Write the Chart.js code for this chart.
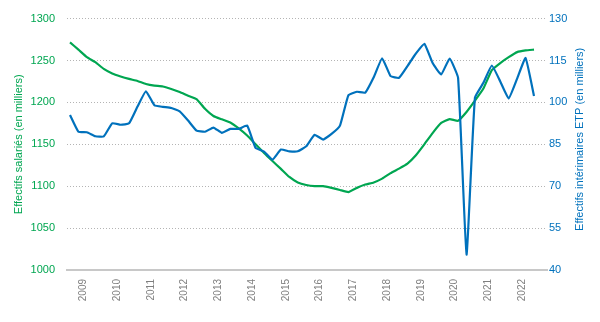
<!DOCTYPE html>
<html><head><meta charset="utf-8">
<script src="https://cdn.jsdelivr.net/npm/chart.js@4/dist/chart.umd.min.js"></script>
<style>html,body{margin:0;padding:0;background:#fff}#w{width:600px;height:322px;position:relative}</style>
</head><body><div id="w"><canvas id="c"></canvas></div>
<script>
// Quarterly categories 2008 T3 .. 2022 T2
const quarters = [];
for (let y = 2008; y <= 2022; y++) for (let q = 1; q <= 4; q++) {
  if ((y === 2008 && q < 3) || (y === 2022 && q > 2)) continue;
  quarters.push(y + ' T' + q);
}
const yearLabels = ['2009','2010','2011','2012','2013','2014','2015','2016','2017','2018','2019','2020','2021','2022'];

// Effectifs salariés (en milliers) - left axis
const salaries = [1271.6,1263,1254,1248,1240,1234.6,1231,1228,1225.5,1222,
  1220,1219,1216,1212.5,1208,1204,1192.4,1183.8,1179.8,1176,
  1169,1160.5,1150,1139.6,1130,1120.7,1111,1104.5,1101.4,1100,
  1100,1098,1095.5,1093,1098,1102,1104.5,1109,1115.6,1121,
  1127,1137,1150,1163.7,1175.5,1180,1178,1188.5,1202,1216.5,
  1238.5,1247,1254,1260,1262,1263];

// Effectifs intérimaires ETP (en milliers) - right axis
const interim = [95.5,89.5,89.3,87.9,87.8,92.5,92.0,92.5,98.5,104,
  99.0,98.4,98.0,96.8,93.5,89.9,89.5,91.0,89.1,90.5,
  90.5,91.7,83.7,82.4,79.5,83.1,82.5,82.5,84.3,88.4,
  86.7,88.7,91.7,102.6,103.8,103.5,109.0,115.8,109.4,108.8,
  113.0,117.5,121,114,110,115.7,108.8,45.5,101.7,107,
  113.2,107.5,101.4,108.5,115.9,102.3];

const leftTicks = [1000,1050,1100,1150,1200,1250,1300];
const rightTicks = [40,55,70,85,100,115,130];

const GREEN = '#00a651';
const BLUE = '#0071bc';
const FONT = "'Liberation Sans', Arial, sans-serif";

// year tick positions: year label sits between T4 of previous year and T1
const yearPos = yearLabels.map(y => quarters.indexOf(y + ' T1') - 0.4);

const rightTitle = {
  id: 'rightTitle',
  afterDraw(chart) {
    const ctx = chart.ctx;
    const a = chart.chartArea;
    ctx.save();
    ctx.translate(580, (a.top + a.bottom) / 2 - 5);
    ctx.rotate(-Math.PI / 2);
    ctx.fillStyle = BLUE;
    ctx.font = '11px ' + FONT;
    ctx.textAlign = 'center';
    ctx.textBaseline = 'middle';
    ctx.fillText('Effectifs intérimaires ETP (en milliers)', 0, 0);
    ctx.restore();
  }
};

new Chart(document.getElementById('c'), {
  type: 'line',
  data: {
    datasets: [
      {
        label: 'Effectifs intérimaires ETP (en milliers)',
        data: interim.map((v, i) => ({x: i, y: v})),
        yAxisID: 'y2',
        borderColor: BLUE,
        borderWidth: 2.2,
        pointRadius: 0,
        tension: 0.12,
        fill: false
      },
      {
        label: 'Effectifs salariés (en milliers)',
        data: salaries.map((v, i) => ({x: i, y: v})),
        yAxisID: 'y',
        borderColor: GREEN,
        borderWidth: 2.2,
        pointRadius: 0,
        tension: 0.12,
        fill: false
      }
    ]
  },
  options: {
    responsive: true,
    maintainAspectRatio: false,
    animation: false,
    layout: {padding: {top: 17, left: 0, right: 0, bottom: 0}},
    plugins: {legend: {display: false}, tooltip: {enabled: false}},
    scales: {
      x: {
        type: 'linear',
        min: -0.356,
        max: 56.54,
        afterBuildTicks: s => { s.ticks = yearPos.map(v => ({value: v})); },
        afterFit: s => { s.height = 52; },
        grid: {display: false, drawTicks: false},
        border: {display: true, color: '#c8c8c8', width: 2},
        ticks: {
          autoSkip: false,
          maxRotation: 90,
          minRotation: 90,
          padding: 9,
          color: '#7f7f7f',
          font: {family: FONT, size: 10},
          callback: (v, i) => yearLabels[i]
        }
      },
      y: {
        position: 'left',
        min: 1000,
        max: 1300,
        afterBuildTicks: s => { s.ticks = leftTicks.map(v => ({value: v})); },
        afterFit: s => { s.width = 67; },
        grid: {color: '#b4b4b4', drawTicks: false, lineWidth: 1},
        border: {display: false, dash: [1, 2]},
        ticks: {padding: 12, color: GREEN, font: {family: FONT, size: 11},
          callback: v => String(v)},
        title: {display: true, text: 'Effectifs salariés (en milliers)', color: GREEN,
          font: {family: FONT, size: 11}, padding: {top: 12, bottom: 0}}
      },
      y2: {
        position: 'right',
        min: 40,
        max: 130,
        afterBuildTicks: s => { s.ticks = rightTicks.map(v => ({value: v})); },
        afterFit: s => { s.width = 53; },
        grid: {display: false, drawTicks: false},
        border: {display: false},
        ticks: {padding: 2, color: BLUE, font: {family: FONT, size: 11},
          callback: v => String(v)}
      }
    }
  },
  plugins: [rightTitle]
});
</script>
</body></html>
